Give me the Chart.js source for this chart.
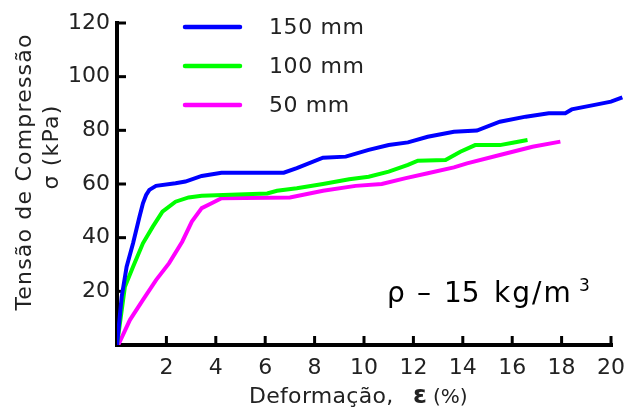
<!DOCTYPE html>
<html lang="pt">
<head>
<meta charset="UTF-8">
<title>Tensão x Deformação</title>
<style>
  html, body { margin: 0; padding: 0; background: #fff; }
  #wrap { width: 635px; height: 410px; }
</style>
</head>
<body>
<div id="wrap"><canvas id="chart" width="635" height="410"></canvas></div>
<script src="https://cdn.jsdelivr.net/npm/chart.js@4/dist/chart.umd.min.js"></script>
<script>
  // curva 150 mm
  var x150 = [0, 0.19, 0.39, 0.65, 0.91, 1.05, 1.18, 1.31, 1.58, 2.37, 2.77, 3.43, 4.23, 6.75, 7.28, 8.34, 9.26, 10.19, 11.0, 11.78, 12.58, 13.64, 14.57, 15.5, 16.55, 17.48, 18.15, 18.41, 19.34, 20.0, 20.46];
  var y150 = [0, 18.0, 29.2, 37.9, 47.8, 52.8, 55.9, 57.8, 59.3, 60.3, 60.9, 63.0, 64.2, 64.2, 65.9, 69.8, 70.2, 72.7, 74.5, 75.5, 77.6, 79.5, 79.9, 83.2, 85.1, 86.4, 86.4, 87.8, 89.5, 90.7, 92.3];
  // curva 100 mm
  var x100 = [0, 0.32, 0.65, 1.05, 1.45, 1.84, 2.37, 2.9, 3.43, 6.08, 6.48, 7.28, 8.34, 9.4, 10.19, 11.0, 11.78, 12.18, 13.3, 13.9, 14.5, 15.5, 16.02, 16.62];
  var y100 = [0, 21.7, 29.2, 37.9, 44.1, 49.7, 53.4, 55.0, 55.6, 56.5, 57.5, 58.4, 60.0, 61.8, 62.7, 64.6, 67.1, 68.7, 68.9, 72.0, 74.5, 74.5, 75.4, 76.4];
  // curva 50 mm
  var x50 = [0.05, 0.52, 1.05, 1.58, 2.11, 2.64, 3.03, 3.43, 3.83, 4.23, 7.0, 8.34, 9.66, 10.72, 11.65, 12.58, 13.64, 14.17, 15.5, 16.82, 17.95];
  var y50 = [0, 9.3, 16.8, 24.2, 30.5, 38.5, 46.0, 51.0, 52.8, 54.7, 55.0, 57.5, 59.3, 60.0, 62.1, 64.0, 66.2, 67.7, 70.8, 73.9, 75.8];

  var seriesNames = ['150 mm', '100 mm', '50 mm'];
  var seriesColors = ['#0000ff', '#00ff00', '#ff00ff'];
  var xTicks = [2, 4, 6, 8, 10, 12, 14, 16, 18, 20];
  var yTicks = [20, 40, 60, 80, 100, 120];

  var FONT = '"DejaVu Sans", Verdana, sans-serif';

  function pts(xs, ys) {
    return xs.map(function (x, i) { return { x: x, y: ys[i] }; });
  }

  // eixos com marcas internas, legenda e textos
  var decor = {
    id: 'decor',
    beforeDatasetsDraw: function (chart) {
      var c = chart.ctx, xs = chart.scales.x, ys = chart.scales.y;
      var x0 = xs.getPixelForValue(0), y0 = ys.getPixelForValue(0);
      var xEnd = xs.getPixelForValue(20), yTop = ys.getPixelForValue(120);
      c.save();
      c.strokeStyle = '#000';
      c.lineWidth = 4;
      c.lineCap = 'square';
      c.beginPath();
      c.moveTo(x0, yTop); c.lineTo(x0, y0); c.lineTo(xEnd, y0);
      c.stroke();
      c.lineWidth = 3;
      c.lineCap = 'butt';
      yTicks.forEach(function (v) {
        var p = ys.getPixelForValue(v);
        c.beginPath(); c.moveTo(x0, p); c.lineTo(x0 + 9, p); c.stroke();
      });
      xTicks.forEach(function (v) {
        var p = xs.getPixelForValue(v);
        c.beginPath(); c.moveTo(p, y0); c.lineTo(p, y0 - 9); c.stroke();
      });
      c.restore();
    },
    afterDraw: function (chart) {
      var c = chart.ctx;
      c.save();
      // legenda
      var ly = [27, 66, 105];
      chart.data.datasets.forEach(function (ds, i) {
        c.strokeStyle = ds.borderColor;
        c.lineWidth = 4.5;
        c.lineCap = 'round';
        c.beginPath(); c.moveTo(185, ly[i]); c.lineTo(240, ly[i]); c.stroke();
        c.fillStyle = '#222';
        c.font = '22px ' + FONT;
        c.letterSpacing = '0.6px';
        c.textBaseline = 'middle';
        c.textAlign = 'left';
        c.fillText(ds.label, 269, ly[i] + 1);
      });

      // densidade
      c.fillStyle = '#000';
      c.letterSpacing = '0px';
      c.textBaseline = 'alphabetic';
      c.font = '28px ' + FONT;
      c.fillText('ρ', 387, 302);
      c.fillText('–', 417, 302);
      c.fillText('15', 444, 302);
      c.letterSpacing = '2px';
      c.fillText('kg/m', 494, 302);
      c.letterSpacing = '0px';
      c.font = '17px ' + FONT;
      c.fillText('3', 579, 291);

      // título do eixo x
      c.fillStyle = '#222';
      c.font = '22px ' + FONT;
      c.letterSpacing = '0.3px';
      c.fillText('Deformação,', 249, 403);
      c.letterSpacing = '0px';
      c.font = 'bold 25px ' + FONT;
      c.fillText('ε', 413, 403);
      c.font = '20px ' + FONT;
      c.fillText('(%)', 433, 403);

      // título do eixo y
      c.font = '22px ' + FONT;
      c.letterSpacing = '1.2px';
      c.textAlign = 'center';
      c.save();
      c.translate(31, 172);
      c.rotate(-Math.PI / 2);
      c.fillText('Tensão de Compressão', 0, 0);
      c.restore();
      c.save();
      c.translate(58, 147);
      c.rotate(-Math.PI / 2);
      c.fillText('σ (kPa)', 0, 0);
      c.restore();
      c.restore();
    }
  };

  var ctx = document.getElementById('chart').getContext('2d');
  var chart = new Chart(ctx, {
    type: 'line',
    data: {
      datasets: [
        { label: seriesNames[0], data: pts(x150, y150) },
        { label: seriesNames[1], data: pts(x100, y100) },
        { label: seriesNames[2], data: pts(x50, y50) }
      ].map(function (ds, i) {
        ds.borderColor = seriesColors[i];
        ds.backgroundColor = seriesColors[i];
        ds.borderWidth = 4;
        ds.pointRadius = 0;
        ds.tension = 0;
        ds.fill = false;
        ds.order = i;
        return ds;
      })
    },
    options: {
      responsive: false,
      animation: false,
      devicePixelRatio: 1,
      layout: { padding: { top: 23, right: 0, left: 0, bottom: 0 } },
      plugins: { legend: { display: false }, tooltip: { enabled: false } },
      scales: {
        x: {
          type: 'linear',
          min: 0,
          max: 20.6,
          grid: { display: false, drawTicks: false },
          border: { display: false },
          ticks: {
            stepSize: 2,
            includeBounds: false,
            autoSkip: false,
            maxRotation: 0,
            padding: 10,
            color: '#222',
            font: { family: FONT, size: 22 },
            callback: function (v) { return v === 0 ? '' : v; }
          },
          afterFit: function (s) { s.height = 65; }
        },
        y: {
          min: 0,
          max: 120,
          grid: { display: false, drawTicks: false },
          border: { display: false },
          ticks: {
            stepSize: 20,
            padding: 7,
            color: '#222',
            font: { family: FONT, size: 22 },
            callback: function (v) { return v === 0 ? '' : v; }
          },
          afterFit: function (s) { s.width = 117; }
        }
      }
    },
    plugins: [decor]
  });
</script>
</body>
</html>
